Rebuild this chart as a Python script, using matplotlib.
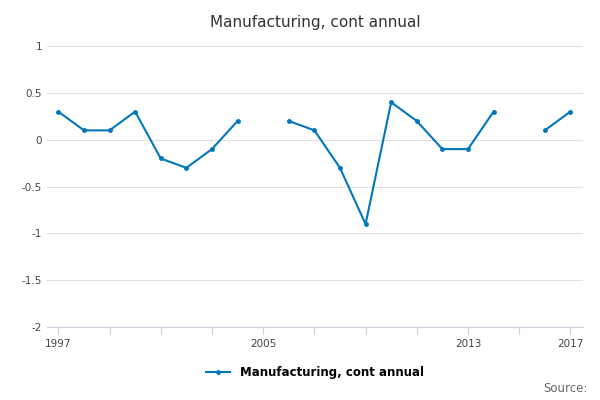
import matplotlib.pyplot as plt
import numpy as np

# Manufacturing, cont annual
years = list(range(1997, 2018))
values = [0.3, 0.1, 0.1, 0.3, -0.2, -0.3, -0.1, 0.2, np.nan, 0.2, 0.1, -0.3,
          -0.9, 0.4, 0.2, -0.1, -0.1, 0.3, np.nan, 0.1, 0.3]

plt.figure(figsize=(6, 4), dpi=100)
ax = plt.gca()
plt.plot(years, values, 'o-', color='#0077bb', linewidth=1.5, markersize=2.5,
         label='Manufacturing, cont annual')

plt.xlim(1996.55, 2017.5)
plt.ylim(-2, 1)
plt.yticks([1, 0.5, 0, -0.5, -1, -1.5, -2], ['1', '0.5', '0', '-0.5', '-1', '-1.5', '-2'])
plt.xticks(range(1997, 2018, 2), ['1997', '', '', '', '2005', '', '', '', '2013', '', '2017'])
plt.grid(True, axis='y', color='#e0e0e0', linewidth=0.8)
ax.tick_params(axis='y', length=0, labelsize=7.5, colors='#444444')
ax.tick_params(axis='x', length=5, color='#ccccdd', labelsize=7.5, colors='#444444')
for s in ['top', 'right', 'left']:
    ax.spines[s].set_visible(False)
ax.spines['bottom'].set_color('#ccccdd')

plt.title('Manufacturing, cont annual', fontsize=11, color='#333333', pad=14)
plt.legend(loc='upper center', bbox_to_anchor=(0.5, -0.1), frameon=False,
           prop={'weight': 'bold', 'size': 8.5})
plt.figtext(0.98, 0.02, 'Source:', ha='right', fontsize=8.5, color='#666666')

plt.subplots_adjust(left=0.078, right=0.972, top=0.885, bottom=0.182)
plt.savefig('out.png', dpi=100)
